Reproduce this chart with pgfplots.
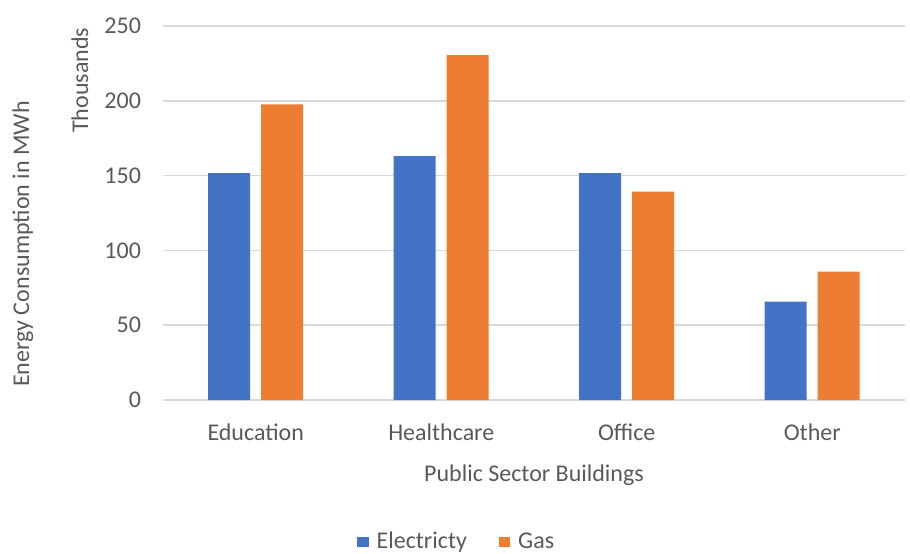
\documentclass[border=0pt]{standalone}
\usepackage{fontspec}
\setmainfont{Carlito}
\usepackage{pgfplots}
\pgfplotsset{compat=1.18}

\definecolor{elec}{HTML}{4472C4}
\definecolor{gas}{HTML}{ED7D31}
\definecolor{txt}{HTML}{595959}
\definecolor{grd}{HTML}{D9D9D9}

\begin{document}
\begin{tikzpicture}[font=\fontsize{12}{14}\selectfont, text=txt]
  \path[use as bounding box] (-81.5pt,-76.5pt) rectangle (373.5pt,200pt);
  \begin{axis}[
      scale only axis,
      clip=false,
      width=371pt, height=187pt,
      ybar=5.5pt, bar width=21pt,
      xmin=-0.5, xmax=3.5,
      ymin=0, ymax=250,
      xtick=data,
      xticklabels={Education,Healthcare,Office,Other},
      ytick={0,50,...,250},
      major tick length=0pt,
      axis line style={draw=none},
      ymajorgrids,
      grid style={grd, line width=0.8pt},
      /pgf/number format/assume math mode=true,
      tick label style={font=\fontsize{12}{14}\selectfont, text=txt},
      yticklabel style={xshift=-7.5pt},
      xticklabel style={yshift=-8.5pt},
      xlabel={Public Sector Buildings},
      xlabel style={at={(rel axis cs:0.5,-0.2)}, anchor=center},
      ylabel={Energy Consumption in MWh},
      ylabel style={at={(rel axis cs:-0.1887,0.417)}, anchor=center, rotate=0},
      legend columns=2,
      legend style={draw=none, fill=none, at={(rel axis cs:0.400,-0.379)}, anchor=center,
        /tikz/every even column/.append style={column sep=12pt},
        nodes={inner xsep=4pt},
        font=\fontsize{12}{14}\selectfont, text=txt},
      legend image code/.code={\fill[#1] (0pt,-2.6pt) rectangle (5.6pt,2.6pt);},
    ]
    \addplot[fill=elec, draw=none] coordinates {(0,151.6) (1,163.0) (2,151.6) (3,65.8)};
    \addplot[fill=gas, draw=none] coordinates {(0,197.7) (1,230.5) (2,139.3) (3,85.8)};
    \legend{Electricty, Gas}
    \node[rotate=90, anchor=center] at (rel axis cs:-0.1119,0.855) {Thousands};
  \end{axis}
\end{tikzpicture}
\end{document}
